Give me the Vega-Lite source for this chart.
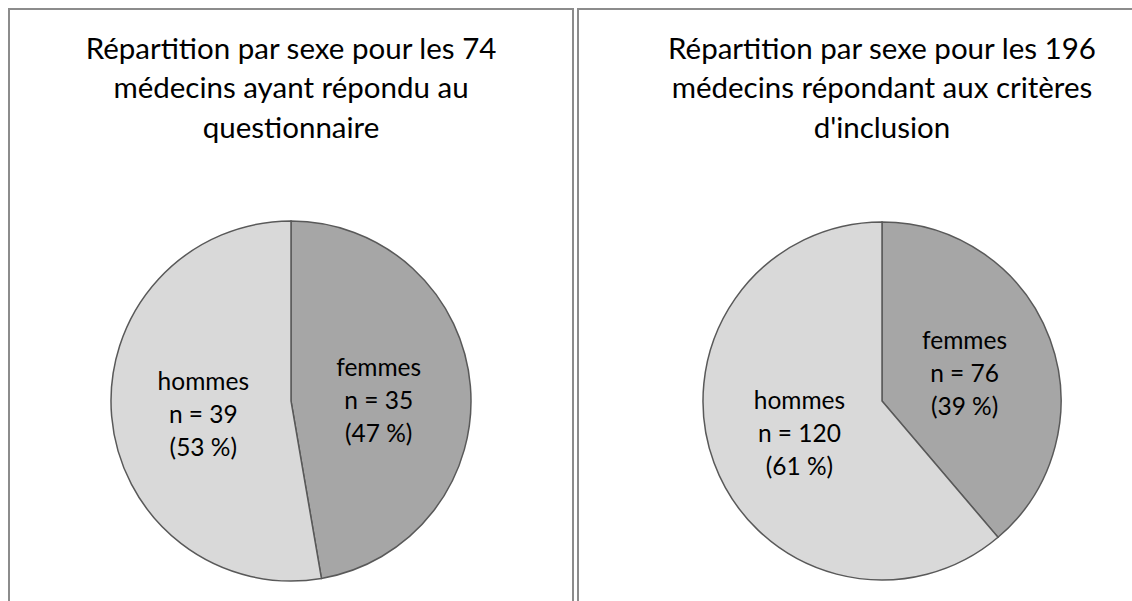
{
  "$schema": "https://vega.github.io/schema/vega-lite/v6.json",
  "padding": {"left": 8, "top": 8, "right": 0, "bottom": 0},
  "autosize": {"type": "pad"},
  "spacing": 3,
  "background": "#ffffff",
  "config": {
    "view": {"stroke": "#8c8c8c", "strokeWidth": 2},
    "font": "Lato",
    "title": {"font": "Lato", "fontSize": 29.5, "fontWeight": "normal", "color": "#000000", "lineHeight": 39.5, "anchor": "middle", "baseline": "top", "offset": -135}
  },
  "datasets": {
    "gauche": [
      {"sexe": "femmes", "n": 35, "ordre": 1, "etiquette": "femmes\nn = 35\n(47 %)"},
      {"sexe": "hommes", "n": 39, "ordre": 2, "etiquette": "hommes\nn = 39\n(53 %)"}
    ],
    "droite": [
      {"sexe": "femmes", "n": 76, "ordre": 1, "etiquette": "femmes\nn = 76\n(39 %)"},
      {"sexe": "hommes", "n": 120, "ordre": 2, "etiquette": "hommes\nn = 120\n(61 %)"}
    ]
  },
  "hconcat": [
    {
      "width": 564,
      "height": 784,
      "view": {"stroke": "#8c8c8c", "strokeWidth": 2, "fill": "#ffffff"},
      "title": {"text": ["Répartition par sexe pour les 74", "médecins ayant répondu au", "questionnaire"]},
      "data": {"name": "gauche"},
      "encoding": {
        "theta": {"field": "n", "type": "quantitative", "stack": true},
        "order": {"field": "ordre", "type": "quantitative"}
      },
      "layer": [
        {
          "mark": {"type": "arc", "radius": 180, "stroke": "#595959", "strokeWidth": 1.5},
          "encoding": {
            "color": {"field": "sexe", "type": "nominal", "scale": {"domain": ["femmes", "hommes"], "range": ["#a6a6a6", "#d9d9d9"]}, "legend": null}
          }
        },
        {
          "mark": {"type": "text", "radius": 88, "fontSize": 24.5, "lineHeight": 33, "lineBreak": "\n", "align": "center", "baseline": "middle", "dy": -25, "color": "#000000"},
          "encoding": {"text": {"field": "etiquette", "type": "nominal"}}
        }
      ]
    },
    {
      "width": 608,
      "height": 784,
      "view": {"stroke": "#8c8c8c", "strokeWidth": 2, "fill": "#ffffff"},
      "title": {"text": ["Répartition par sexe pour les 196", "médecins répondant aux critères", "d'inclusion"]},
      "data": {"name": "droite"},
      "encoding": {
        "theta": {"field": "n", "type": "quantitative", "stack": true},
        "order": {"field": "ordre", "type": "quantitative"}
      },
      "layer": [
        {
          "mark": {"type": "arc", "radius": 179, "stroke": "#595959", "strokeWidth": 1.5},
          "encoding": {
            "color": {"field": "sexe", "type": "nominal", "scale": {"domain": ["femmes", "hommes"], "range": ["#a6a6a6", "#d9d9d9"]}, "legend": null}
          }
        },
        {
          "mark": {"type": "text", "radius": 88, "fontSize": 24.5, "lineHeight": 33, "lineBreak": "\n", "align": "center", "baseline": "middle", "dy": -29, "color": "#000000"},
          "encoding": {"text": {"field": "etiquette", "type": "nominal"}}
        }
      ]
    }
  ]
}
